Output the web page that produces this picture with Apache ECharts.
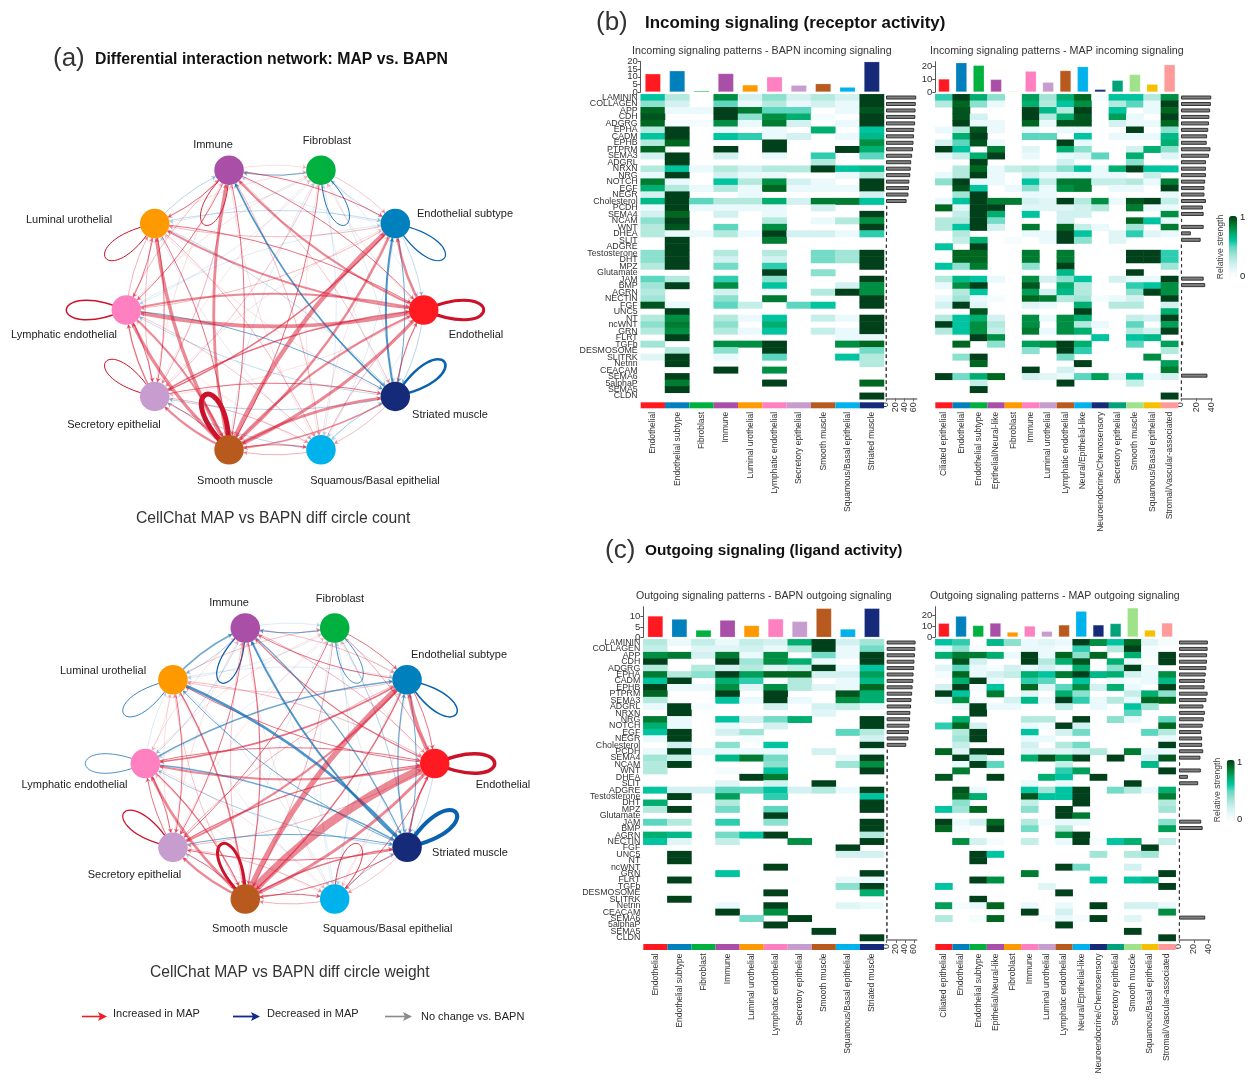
<!DOCTYPE html>
<html><head><meta charset="utf-8">
<style>html,body{margin:0;padding:0;background:#fff}#c{width:1253px;height:1082px}</style>
<script src="https://cdn.jsdelivr.net/npm/echarts@6/dist/echarts.min.js"></script>
</head><body><div id="c"></div>
<script>
const netNodes=['Endothelial','Endothelial subtype','Fibroblast','Immune','Luminal urothelial','Lymphatic endothelial','Secretory epithelial','Smooth muscle','Squamous/Basal epithelial','Striated muscle'];
const netColors=['#ff1a22','#0080bd','#00b140','#aa4fa8','#ff9900','#ff80c0','#c79ccf','#b85a1e','#00b2ec','#152a78'];
const mapGroups=['Ciliated epithelial','Endothelial','Endothelial subtype','Epithelial/Neural-like','Fibroblast','Immune','Luminal urothelial','Lymphatic endothelial','Neural/Epithelial-like','Neuroendocrine/Chemosensory','Secretory epithelial','Smooth muscle','Squamous/Basal epithelial','Stromal/Vascular-associated'];
const mapColors=['#ff1a22','#0080bd','#00b140','#aa4fa8','#ff9900','#ff80c0','#c79ccf','#b85a1e','#00b2ec','#152a78','#00a27a','#a0e28a','#f5c000','#ff9a9a'];
const pathways=['LAMININ','COLLAGEN','APP','CDH','ADGRG','EPHA','CADM','EPHB','PTPRM','SEMA3','ADGRL','NRXN','NRG','NOTCH','EGF','NEGR','Cholesterol','PCDH','SEMA4','NCAM','WNT','DHEA','SLIT','ADGRE','Testosterone','DHT','MPZ','Glutamate','JAM','BMP','AGRN','NECTIN','FGF','UNC5','NT','ncWNT','GRN','FLRT','TGFb','DESMOSOME','SLITRK','Netrin','CEACAM','SEMA6','5alphaP','SEMA5','CLDN'];

// signed edge widths, row = source, column = target, diagonal = self loop; red > 0, blue < 0
const countMatrix=[
[3,2.5,.5,2.2,2,3.8,.5,3.2,-.4,-.7],
[-.6,-1.2,-.6,-.5,.7,.7,1.5,2.4,-.5,-1],
[-.4,.6,-.9,-1,-.5,-.5,.6,1,-.5,-.5],
[1,1,.5,.9,1,1,.8,1,.7,.6],
[1,-.6,.5,-.7,1,1,1,1,.7,-.6],
[2,-.5,.5,.7,.8,1.5,1,2,.6,-1],
[1.5,.5,.4,.5,.7,1.3,1,1,.8,1],
[2.2,4.5,-.5,2.8,3.4,3.4,2.2,5,1.2,2.8],
[.8,.5,.4,.5,-.5,.4,-.7,.8,0,-.8],
[1.2,-2,-.4,-1.6,.5,-.6,-.7,1.6,.7,-2.5]];
const weightMatrix=[
[3.5,3.8,.5,1.2,1,2,.7,2.7,1,-.6],
[1,-1.5,-.5,1,.6,1.5,2,1.5,.4,-1],
[.9,1,-.7,-1,-.5,-.4,1,.8,-.5,-.8],
[.8,.7,-.5,-1.2,-.7,-.6,1,1.2,-.4,-1.2],
[.7,-.5,.6,-1.5,-.8,.5,1,1.5,-.5,-2.5],
[1,-1.5,.5,.5,-.5,-.7,1,1.2,.5,-1.5],
[1.2,.8,.4,.5,.5,1,1.2,1,.7,-1],
[8.5,5.5,-.4,.6,.6,2.7,2.2,3,1,1.5],
[.5,-.5,-.4,.5,-.4,.4,-.5,.8,.8,-.8],
[1.5,-1.2,-.5,-2,-1,-.8,1,1,.6,-4]];

// heat values in tenths of relative strength
const incomingBapn=[
[6,3,0,8,2,4,2,3,2,10],[4,2,0,5,1,3,1,2,1,10],[9,1,1,10,8.5,5,5,0,1,9.5],[9.5,0,0,10,4,8,7,.5,0,10],[9,.5,.5,8,1,8.5,2,0,1,10],
[3,10,0,1,0,1,0,7,0,6],[6,10,0,6,5.5,1,2,0,1,6.5],[3,9,0,0,0,10,0,0,0,8],[9,0,0,10,0,10,0,0,10,7],[2,10,0,2,0,1,0,5.5,0,5],
[0,10,0,0,0,0,0,3,0,0],[3,6,1,3,2,3,3,10,6,6.5],[1,10,0,2,1,1,0,0,1,3],[8.5,1,0,6,3,8,2,1,0,10],[7,3,1,3,1,9,1,1,1,10],
[2,10,0,0,1,0,0,0,0,2],[6.5,10,5,3,3,7,2,8.5,8.5,6],[1,10,1,1,1,1,0,2,0,0],[2,9,0,2,0,1,0,0,0,10],[4,10,0,0,0,3,0,1,3,8],
[3,9.5,0,5,0,8,0,0,0,10],[3,1,1,3,1,10,2,2,1,5.5],[0,10,0,0,0,8.5,0,0,0,0],[0,10,0,0,0,0,0,0,0,0],[4,10,0,3,0,3,0,4.5,3.5,10],
[4,10,0,2,0,2,0,4.5,3.5,10],[3,10,0,4.5,0,5.5,0,0,0,10],[0,0,0,0,0,10,0,4,0,0],[5,3,0,5.5,0,4,0,0,0,10],[3.5,10,0,8,0,6,0,0,2,8],
[3,0,0,2,0,.5,0,3,10,8],[3.5,0,0,4,0,8.5,0,0,0,10],[9.5,1,0,5,2.5,0,5,6,0,10],[0,10,0,0,0,0,0,0,0,0],[3,8,0,3,1,6,0,2.5,1,10],
[4,8.5,0,4,0,7,0,0,0,10],[3,8,0,3,1,6,0,2.5,1,10],[0,10,0,0,0,0,0,0,1,1],[3.5,0,0,8,8,10,0,0,8,9],[0,3,0,4,0,10,0,0,0,4.5],
[1.5,10,0,1,0,5,0,0,6,3],[0,10,0,0,0,0,0,0,0,3],[0,0,0,10,0,8,0,0,0,0],[0,10,0,0,0,0,0,0,0,0],[0,8.5,0,0,0,10,0,0,0,9],
[0,10,0,0,0,0,0,0,0,0],[0,0,0,0,0,0,0,0,0,10]];
const incomingMap=[
[5.5,10,7,4,0,7.5,3.5,7,9,.5,6,6,3,8],[3,9,4,1,0,7,3,6,8,0,3,5,1,10],[0,9.5,0,0,0,10,6.5,3,10,0,6,0,1,9],[0,9.5,2,0,0,10,3,7,9.5,0,7.5,1,0,10],[0,10,1,1,0,9,1,9.5,9.5,0,2,1,1,9],
[1,3,9.5,1,0,1,0,1,1,0,0,10,0,4],[0,7,10,0,0,5,5,0,6,0,1,1,1,6.5],[2,5,9.5,1,0,0,0,10,1,0,0,0,0,7],[10,6,0,8.5,0,1.5,0,7,4,0,0,2,7,4],[1,2.5,7,10,0,1,0,1,1.5,5,0,7,0,1.5],
[0,0,10,0,0,0,0,2,0,0,0,4,0,0],[0,3,9,1,2.5,3,2.5,4,6,1,7,10,6,6],[1,3,10,1,0,2,1,1,1,1,1,0,2.5,0],[4,10,1,1,0,6,2.5,8.5,8.5,2.5,2.5,3,1,8.5],[0,9.5,6,0,1,4,1,8,8.5,0,1,1,0,10],
[0,3.5,10,0,0,1,1,0,0,0,0,0,0,1],[1,6,10,8.5,8.5,2,1.5,10,3,8,1,9.5,10,2.5],[9,1.5,10,10,0,1.5,1.5,1.5,2,3,0,8.5,1,1],[0,2.5,10,7,0,6,0,2,2,0,0,0,0,8],[3,3,10,4.5,0,0,0,2,0,0,0,9,6,1],
[3,6,10,2,0,8.5,0,9,2.5,1,0,3.5,0,8.5],[0,3,0,0,0,1,1,10,6,0,1.5,5.5,1.5,1],[0,2.5,7,0,.5,0,1,10,4,0,1.5,0,0,0],[6,0,10,0,0,0,0,0,0,0,0,0,0,0],[0,9,9,0,0,8.5,0,8.5,0,0,0,10,10,5.5],
[0,9,9,0,0,8.5,0,8.5,0,0,0,10,10,5.5],[6,4,8.5,0,0,4,0,10,0,0,0,0,0,3.5],[0,0,0,0,0,0,0,6.5,0,0,0,10,0,0],[3,6.5,6,1,0,8,2,4,6,0,2,1,1,10],[1,8,10,0,0,9.5,0,7,3,0,0,5.5,6,8],
[0,3,6,0,0,7.5,2,6.5,3,0,0,4,10,8],[1,3.5,1,.5,0,9,8.5,3,3.5,.5,1,2,0,10],[2,10,1.5,0,0,1.5,1,0,7,0,3,3,0,2],[0,0,9.5,0,0,0,0,0,10,0,0,0,0,7],[3,6,7,2,0,8,1,8,7,0,0,2.5,2,10],
[10,6,8,3,0,8,0,8,3,1,0,5,0,7.5],[3,6,8,2.5,0,8.5,1,8,7,0,0,3,2,10],[0,0,10,8,0,0,0,0,0,6,0,6,6.5,0],[0,9,0,4,0,7.5,8,10,7,0,0,5,0,7.5],[0,0,0,0,0,4,0,10,5.5,0,0,0,0,3],
[0,4,10,0,0,0,0,4.5,0,0,0,0,8,0],[0,0,9,0,0,0,0,0,10,0,0,0,0,7.5],[0,0,0,0,0,10,0,2,0,0,0,0,0,8.5],[10,4.5,7,9,0,2,1.5,1,5,7.5,1.5,6.5,1,2],[0,0,2.5,0,0,0,0,10,0,0,0,2.5,0,0],
[0,0,10,0,0,0,0,0,0,0,0,0,0,0],[0,0,0,0,0,0,0,0,0,0,0,0,0,10]];
const outgoingBapn=[
[3,1,2.5,1,2.5,2,7,10,2,3.5],[2.5,0,1.5,1.5,2,1,3,10,1,4.5],[8,8.5,2,8.5,1,8,0,4.5,1,10],[10,0,0,10,3.5,8,7,1,0,10],[3,0,3,2,3,1.5,2.5,10,1,6],
[8.5,3,4,10,7.5,9,9,2,2,7.5],[6,10,0,7,5.5,.5,3,0,1,6.5],[10,1,1,8,1.5,8,3,1.5,1,9],[9,0,0,10,0,10,0,0,9.5,7],[3,0,0,6,1,10,1,0,8,7],
[1,10,.5,0,0,2,0,2,2.5,1],[0,10,0,0,0,0,0,1.5,0,0],[8.5,1,0,6,2,4.5,7,0,0,10],[7,1,0,1,0,2,0,0,0,10],[6,10,0,2,3.5,0,0,0,5,3],
[1,10,0,0,.5,0,0,0,0,2],[0,2,0,4,0,6,0,0,0,10],[1,10,1,1,1,1,0,2,0,.5],[3.5,2.5,0,6.5,8.5,4.5,0,0,1,10],[3,10,0,0,0,4,0,0,3.5,8],
[3,0,0,.5,0,6,0,0,0,10],[0,0,0,0,10,8.5,0,0,0,0],[0,0,0,1.5,0,2,0,10,0,0],[6,2,2,5,5,6,2,3,1,10],[0,10,0,7.5,0,5.5,0,0,0,6],
[7,0,0,3,0,0,0,0,0,10],[3,10,0,4.5,0,5,0,0,0,10],[0,0,0,0,0,10,0,0,0,0],[5,3,0,5.5,0,4,0,0,0,10],[0,0,0,0,0,0,0,0,0,10],
[7,6.5,0,4.5,6,10,0,0,0,3],[6,1.5,0,2.5,0,0,8,0,0,10],[0,0,0,0,0,0,0,0,10,0],[0,10,0,0,0,0,0,0,2,2],[0,10,0,0,0,0,0,0,0,0],
[0,0,0,0,0,10,0,0,0,0],[0,0,0,6,0,0,0,0,0,10],[0,10,0,0,0,0,0,0,1,1],[0,0,0,0,0,0,0,0,4,10],[0,0,0,0,0,10,0,0,0,7],
[0,10,0,0,0,0,0,0,0,0],[0,0,0,1,0,10,0,0,1.5,1],[0,0,0,10,0,8,0,0,0,0],[0,0,0,0,4.5,0,10,0,0,0],[0,0,0,0,0,10,0,0,0,0],
[0,0,0,0,0,0,0,10,0,0],[0,0,0,0,0,0,0,0,0,10]];
const outgoingMap=[
[6,5.5,0,6.5,4,1,1.5,1,10,8,6,9,1.5,.5],[1,4,.5,0,0,1,1,.5,5.5,0,3,10,.5,0],[7,8.5,8.5,7,1,10,1,9,4,9,0,7,.5,10],[0,9.5,2,0,0,10,3,7,9.5,0,7,1,0,10],[1.5,5,1,.5,2,1,2,1,7,0,4,10,1,0],
[.5,9,1,2,2.5,7,6,8.5,10,6.5,7,2,1,8],[0,7,10,1,0,5.5,5,0,6,0,1,.5,1,6.5],[2,10,.5,6,0,9,1.5,5,8,2,7,1,0,10],[10,6,0,8.5,0,1.5,0,7,4,0,0,2.5,7,4],[1,8,.5,0,2,6.5,1,10,5.5,1,3,1,9,9],
[0,1,10,1,1,0,0,2.5,0,1,0,6,3.5,0],[0,0,10,0,0,0,0,0,0,0,0,5,0,0],[0,7,0,0,0,3,3,0,10,0,4,1,0,5],[5.5,9,2,0,0,1,.5,10,2,0,0,0,0,9],[0,3,10,0,0,6,0,2,4.5,0,0,0,5,3],
[0,3.5,10,0,0,1,1,0,0,0,0,0,0,1],[0,2.5,0,0,0,2,0,3,4.5,0,0,0,0,10],[9,1.5,10,10,0,1.5,1.5,1.5,2,3,0,8.5,1,1],[0,10,3,0,0,7,9.5,7.5,10,0,10,0,2,9.5],[0,1,10,5,0,0,0,2.5,0,0,0,0,6.5,0],
[0,8.5,0,0,0,0,0,5.5,7.5,0,0,0,0,10],[9.5,0,0,10,0,0,7,6,0,10,0,0,0,0],[0,0,0,0,0,1,0,1,0,0,0,10,0,0],[0,9.5,1,0,0,6,3.5,6,10,0,4.5,3,1,7],[0,9,7,0,0,9.5,6,6,10,0,0,0,0,8.5],
[0,4,0,0,0,2.5,0,0,10,0,0,0,0,3],[6,3.5,9,0,0,4,0,10,0,0,0,0,0,3.5],[0,0,0,0,0,0,0,10,8.5,0,0,0,0,0],[10,1,2,9,0,3,.5,1,1,0,0,0,0,4],[9,.5,0,10,0,4.5,0,3,0,0,0,0,0,7.5],
[0,0,0,0,0,0,0,8,10,0,0,0,0,0],[0,8,2,.5,0,2.5,0,1,10,.5,6,7,0,2.5],[0,0,0,0,0,0,0,0,0,0,0,0,10,0],[0,0,10,6,0,0,0,0,0,3.5,0,3,3.5,0],[0,0,10,0,0,0,0,0,0,0,0,0,0,0],
[0,0,0,0,0,0,0,10,4.5,0,0,2,0,0],[0,0,0,0,0,8.5,0,0,0,0,0,0,0,10],[0,0,10,8,0,0,0,0,0,6,0,6,6.5,0],[6,0,0,0,0,0,1.5,0,0,0,0,0,0,10],[0,0,0,0,0,0,0,10,0,0,0,0,0,0],
[0,0,10,0,0,0,0,0,0,0,0,0,0,0],[7.5,.5,1,9,0,1,0,1,0,10,0,2,2,1],[0,0,0,0,0,10,0,2,0,0,0,0,0,8],[3,0,.5,9,0,0,.5,1,.5,10,0,1.5,0,0],[0,0,0,0,0,0,0,10,0,0,0,0,0,0],
[0,0,0,0,0,0,0,0,0,0,0,10,0,0],[0,0,0,0,0,0,0,0,0,0,0,0,0,10]];

// summed strength per cell group (top bars)
const topIncomingBapn=[12,14,.8,12.2,4.7,10,4.5,5.5,3.2,20];
const topIncomingMap=[10,22.5,20.5,9.7,.5,16,7.5,16.5,19.5,2,9,13.5,6,21];
const topOutgoingBapn=[10.3,8.8,3.5,8.3,5.7,8.9,7.7,14,4,14];
const topOutgoingMap=[12.5,19,10.5,12.7,4.5,10,5.2,11,23.5,11,12.3,26.5,6.3,12.8];
// summed strength per pathway (right bars)
const rightIncomingBapn=[66,65,64.5,64,63.5,61.5,61,60,59,57,55,54,53,51,50,49,45,3,3,2.5,2.5,2,2,1.5,1.5,1.5,1.5,1,1.5,1.5,1.5,1,1,1,1,1,1,1,1,1,1,1,1,1,1,1,1];
const rightIncomingMap=[40,39.5,38.5,37.5,37,36,34.5,34,39,37,33,33,33,32,31,31,33,29,30,1.5,30,13,26,1,1.5,1.5,1.5,1,30,32,1.5,1.5,1,1.5,1.5,1.5,1.5,1,3,1,1,1,1,35,1,1,1];
const rightOutgoingBapn=[63.5,63,62,61,60.5,59,58.5,57,56,54.5,53.5,52,51.5,50,49,47.5,43,2.5,2.5,2,2,2,1.5,1.5,1.5,1.5,1.5,1,1.5,1.5,1.5,1,1,1,1,1,1,1,1,1,1,1,1,1,1,1,1];
const rightOutgoingMap=[39,38.7,38,37.8,37,36,35,34.5,38.7,37,33,35,33.6,32,30,31.3,31.3,32.7,29,1.5,29.5,12,26,1,1.5,1.5,1.5,1,30,32,1,1,1,1.5,1,1.5,1.5,1,1.5,1,1,1,1,35.5,1,1,1];

const ticksTop1=[0,5,10,15,20],ticksTop2=[0,10,20],ticksTop3=[0,5,10],ticksRight60=[0,20,40,60],ticksRight40=[0,20,40];
const strengthColors=['#ffffff','#eaf9fb','#d3f1f1','#b4eade','#8ce0ce','#5cd6be','#00c4a0','#00ae70','#008f42','#006721','#00401a'];
const FONT='"Liberation Sans",Arial,sans-serif';

const panels=[
 {heat:incomingBapn,top:topIncomingBapn,right:rightIncomingBapn,cats:netNodes,colors:netColors,left:640.7,topY:94.3,w:243.3,h:305,barTop:61.7,barBot:92,barMax:20,barTicks:ticksTop1,rLeft:886,rW:30.7,rMax:67,rTicks:ticksRight60,rows:true,stripTop:402.3},
 {heat:incomingMap,top:topIncomingMap,right:rightIncomingMap,cats:mapGroups,colors:mapColors,left:935.3,topY:94.3,w:243,h:305,barTop:61.7,barBot:92,barMax:23.3,barTicks:ticksTop2,rLeft:1181,rW:31,rMax:41,rTicks:ticksRight40,rows:false,stripTop:402.3},
 {heat:outgoingBapn,top:topOutgoingBapn,right:rightOutgoingBapn,cats:netNodes,colors:netColors,left:643.3,topY:639.3,w:240.7,h:301.7,barTop:606.7,barBot:637.3,barMax:14.8,barTicks:ticksTop3,rLeft:886.7,rW:30,rMax:66,rTicks:ticksRight60,rows:true,stripTop:944},
 {heat:outgoingMap,top:topOutgoingMap,right:rightOutgoingMap,cats:mapGroups,colors:mapColors,left:935.3,topY:639.3,w:240.4,h:301.7,barTop:606.7,barBot:637,barMax:27.6,barTicks:ticksTop2,rLeft:1179,rW:30.7,rMax:41.5,rTicks:ticksRight40,rows:false,stripTop:944}
];
const grid=[],xAxis=[],yAxis=[],series=[],heatIdx=[];
function addGrid(l,t,w,h){grid.push({left:l,top:t,width:w,height:h,containLabel:false});return grid.length-1;}
const axisGray='#555';
panels.forEach(function(p,pi){
  const rowLabels=pathways;
  // heat
  let g=addGrid(p.left,p.topY,p.w,p.h);
  xAxis.push({type:'category',gridIndex:g,data:p.cats,show:false});
  yAxis.push({type:'category',gridIndex:g,data:rowLabels,inverse:true,axisLine:{show:false},axisTick:{show:false},splitLine:{show:false},
    axisLabel:{show:p.rows,interval:0,fontSize:8.8,color:'#333',margin:3,fontFamily:FONT}});
  const hd=[];
  p.heat.forEach(function(row,r){row.forEach(function(v,c){if(v>0)hd.push([c,r,v/10]);});});
  heatIdx.push(series.length);
  series.push({type:'heatmap',xAxisIndex:g,yAxisIndex:g,data:hd,progressive:0,animation:false,itemStyle:{borderWidth:0},emphasis:{disabled:true}});
  // top bars
  g=addGrid(p.left,p.barTop,p.w,p.barBot-p.barTop);
  xAxis.push({type:'category',gridIndex:g,data:p.cats,axisLabel:{show:false},axisTick:{show:false},axisLine:{show:false}});
  const tightTicks=p.barTicks.length>3;
  const lo=.001,hi=p.barMax-.001;
  yAxis.push({type:'value',gridIndex:g,min:0,max:p.barMax,splitLine:{show:false},
    axisLine:{show:true,lineStyle:{color:axisGray,width:1}},
    axisTick:{show:true,length:3,customValues:p.barTicks,lineStyle:{color:axisGray}},
    axisLabel:{fontSize:9.5,color:'#333',margin:3,
      customValues:tightTicks?[lo].concat(p.barTicks,[hi]):p.barTicks,
      formatter:function(v){return (v===lo||v===hi)?'':String(v);},
      fontFamily:FONT}});
  series.push({type:'bar',xAxisIndex:g,yAxisIndex:g,barWidth:'64%',silent:true,data:p.top.map(function(v,i){return {value:v,itemStyle:{color:p.colors[i],borderColor:'rgba(255,255,255,.4)',borderWidth:.5}};})});
  // right bars
  g=addGrid(p.rLeft,p.topY,p.rW,p.h-1);
  xAxis.push({type:'value',gridIndex:g,min:0,max:p.rMax,position:'bottom',splitLine:{show:false},
    axisLine:{show:true,onZero:false,lineStyle:{color:'#777',width:1.5}},
    axisTick:{show:true,length:3,customValues:p.rTicks,lineStyle:{color:'#666'}},
    axisLabel:{rotate:90,fontSize:9,color:'#333',margin:4,customValues:p.rTicks,showMinLabel:true,showMaxLabel:true,fontFamily:FONT}});
  yAxis.push({type:'category',gridIndex:g,data:rowLabels,inverse:true,show:false});
  series.push({type:'bar',xAxisIndex:g,yAxisIndex:g,barWidth:'62%',silent:true,data:p.right,itemStyle:{color:'#808080',borderColor:'#333',borderWidth:1}});
  // colour annotation strip
  g=addGrid(p.left,p.stripTop,p.w,6);
  xAxis.push({type:'category',gridIndex:g,data:p.cats,axisLine:{show:false},axisTick:{show:false},
    axisLabel:{interval:0,rotate:90,fontSize:8.5,color:'#333',margin:3.5,fontFamily:FONT}});
  yAxis.push({type:'value',gridIndex:g,min:0,max:1,show:false});
  series.push({type:'bar',xAxisIndex:g,yAxisIndex:g,barWidth:'100%',silent:true,data:p.cats.map(function(c,i){return {value:1,itemStyle:{color:p.colors[i]}};})});
});

// networks
const toRad=Math.PI/180;
const nets=[
 {matrix:countMatrix,cx:275,cy:310,rx:148.7,ry:147,
  labelPos:[[476,335],[465,214],[327,141],[213,145],[69,220],[64,335],[114,425],[235,481],[375,481],[450,414.5]]},
 {matrix:weightMatrix,cx:290,cy:763.5,rx:144.7,ry:142.5,
  labelPos:[[503,785],[459,655],[340,599],[229,603],[103,671],[74.5,785],[134.5,875],[250,929],[387.6,929],[470,853]]}
];
const loopAngles=[0,35,66,114,145,180,215,247,293,325];
function nodeXY(n,i){const a=i*36*toRad;return [n.cx+n.rx*Math.cos(a),n.cy-n.ry*Math.sin(a)];}
nets.forEach(function(n){
  const nodes=netNodes.map(function(name,i){
    const p=nodeXY(n,i);
    return {name:name,x:p[0],y:p[1],itemStyle:{color:netColors[i]},
      label:{show:true,position:'inside',offset:[n.labelPos[i][0]-p[0],n.labelPos[i][1]-p[1]],color:'#222',fontSize:11,fontFamily:FONT}};
  });
  const links=[];
  n.matrix.forEach(function(row,i){row.forEach(function(v,j){
    if(i!==j&&v!==0){
      const w=Math.abs(v);
      links.push({source:netNodes[i],target:netNodes[j],w:w,lineStyle:{width:w,color:v>0?'#d8142e':'#0b6cb3',opacity:w<=.5?.28:w<1?.42:w<1.6?.6:(v>0?.5:.72),curveness:.11}});
    }
  });});
  links.sort(function(a,b){return a.w-b.w;});
  series.push({type:'graph',layout:'none',coordinateSystem:'view',left:n.cx-n.rx,top:n.cy-n.ry*Math.sin(72*toRad),width:2*n.rx,height:2*n.ry*Math.sin(72*toRad),
    symbol:'circle',symbolSize:29.5,roam:false,silent:true,animation:false,z:3,
    edgeSymbol:['none','arrow'],edgeSymbolSize:[0,4],data:nodes,links:links});
  const loops=[];
  netNodes.forEach(function(_,i){if(n.matrix[i][i]!==0)loops.push([i,n.matrix[i][i]]);});
  series.push({type:'custom',coordinateSystem:'none',silent:true,animation:false,z:2,data:loops,
    renderItem:function(params,api){
      const i=api.value(0),v=api.value(1),p=nodeXY(n,i),a=loopAngles[i]*toRad;
      const ux=Math.cos(a),uy=Math.sin(a),L=80,W=34;
      return {type:'bezierCurve',shape:{x1:p[0],y1:p[1],x2:p[0],y2:p[1],
        cpx1:p[0]+L*ux-W*uy,cpy1:p[1]+L*uy+W*ux,cpx2:p[0]+L*ux+W*uy,cpy2:p[1]+L*uy-W*ux},
        style:{fill:'none',stroke:v>0?'#cc1228':'#0a62ae',lineWidth:Math.abs(v)}};
    }});
});

function txt(s,x,y,size,o){return Object.assign({type:'text',x:x,y:y,silent:true,style:{text:s,fill:'#222',fontSize:size,fontFamily:FONT,textAlign:'left',textVerticalAlign:'middle'}},o||{});}
function ttl(s,x,y,size,bold){return {text:s,left:x,top:y-size/2+1,padding:0,textStyle:{fontSize:size,fontWeight:bold?'bold':'normal',color:bold?'#111':'#333',fontFamily:FONT}};}
const title=[
 ttl('(a)',53,58,26,false),ttl('Differential interaction network: MAP vs. BAPN',95,59,15.8,true),
 ttl('(b)',596,22,26,false),ttl('Incoming signaling (receptor activity)',645,22,16.9,true),
 ttl('(c)',605,550,26,false),ttl('Outgoing signaling (ligand activity)',645,550,15.4,true),
 ttl('Incoming signaling patterns - BAPN incoming signaling',632,50,10.7,false),
 ttl('Incoming signaling patterns - MAP incoming signaling',930,50,10.7,false),
 ttl('Outgoing signaling patterns - BAPN outgoing signaling',636,595,10.6,false),
 ttl('Outgoing signaling patterns - MAP outgoing signaling',930,595,10.6,false),
 ttl('CellChat MAP vs BAPN diff circle count',136,518,15.7,false),
 ttl('CellChat MAP vs BAPN diff circle weight',150,971,15.6,false)
];
function vm(idx,l,t){return {type:'continuous',min:0,max:1,seriesIndex:idx,left:l-15,top:t-15,itemWidth:8,itemHeight:61,calculable:false,hoverLink:false,text:null,showLabel:false,inRange:{color:strengthColors},textStyle:{fontSize:1,color:'rgba(0,0,0,0)'}};}
function arrow(x1,x2,y,c,w){return [
 {type:'line',silent:true,shape:{x1:x1,y1:y,x2:x2-6,y2:y},style:{stroke:c,lineWidth:w}},
 {type:'polygon',silent:true,shape:{points:[[x2,y],[x2-9,y-4.5],[x2-7,y],[x2-9,y+4.5]]},style:{fill:c}}];}
const graphicEls=[
 txt('Relative strength',1221,247,9,{rotation:Math.PI/2,style:{text:'Relative strength',fill:'#444',fontSize:8.6,fontFamily:FONT,textAlign:'center',textVerticalAlign:'middle'}}),
 txt('1',1240,217,9.5),txt('0',1240,276,9.5),
 txt('Relative strength',1218,790,9,{rotation:Math.PI/2,style:{text:'Relative strength',fill:'#444',fontSize:8.6,fontFamily:FONT,textAlign:'center',textVerticalAlign:'middle'}}),
 txt('1',1237,762,9.5),txt('0',1237,819,9.5),
 txt('Increased in MAP',113,1014,11),txt('Decreased in MAP',267,1014,11),txt('No change vs. BAPN',421,1017,11)
].concat(arrow(82,107,1016.5,'#ee1c25',1.6),arrow(233,260,1016.5,'#0f2a8c',1.8),arrow(385,412,1016.5,'#8a8a8a',1.6));

const chart=echarts.init(document.getElementById('c'),null,{renderer:'canvas',width:1253,height:1082});
chart.setOption({animation:false,backgroundColor:'#fff',textStyle:{fontFamily:FONT},title:title,grid:grid,xAxis:xAxis,yAxis:yAxis,
  visualMap:[vm([heatIdx[0],heatIdx[1]],1229,216),vm([heatIdx[2],heatIdx[3]],1226.7,760)],series:series,graphic:{elements:graphicEls}});
</script></body></html>
